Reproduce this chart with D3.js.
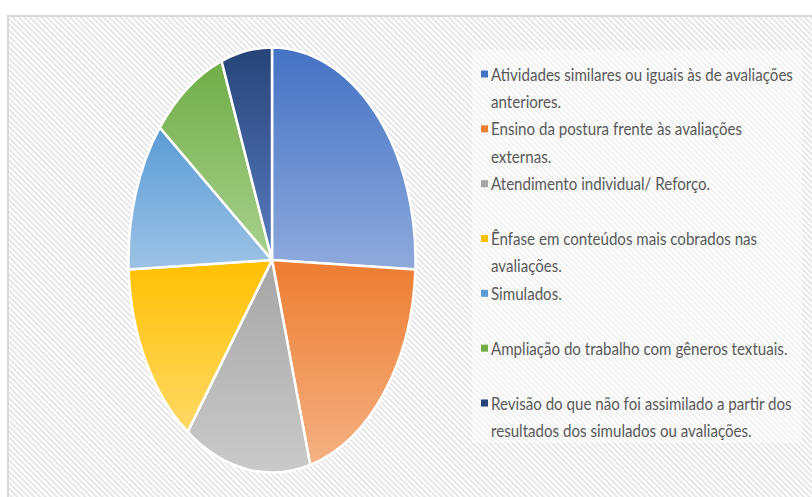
<!DOCTYPE html>
<html>
<head>
<meta charset="utf-8">
<script src="https://cdn.jsdelivr.net/npm/d3@7"></script>
<style>
  body { margin: 0; background: #fff; }
  svg { display: block; }
  .leg text { font-family: Lato, "Open Sans", sans-serif; font-size: 18px; fill: #595959; }
</style>
</head>
<body>
<div id="chart"></div>
<script>
// legend labels, already split into the lines shown in the original
var labels = [
    ["Atividades similares ou iguais às de avaliações", "anteriores."],
    ["Ensino da postura frente às avaliações", "externas."],
    ["Atendimento individual/ Reforço."],
    ["Ênfase em conteúdos mais cobrados nas", "avaliações."],
    ["Simulados."],
    ["Ampliação do trabalho com gêneros textuais."],
    ["Revisão do que não foi assimilado a partir dos", "resultados dos simulados ou avaliações."]
];
var counts = [9, 7, 5, 5, 4, 3, 2];
var baseColors = ["#4472C4", "#ED7D31", "#A5A5A5", "#FFC000", "#5B9BD5", "#70AD47", "#264478"];
var lightColors = ["#8FAADC", "#F4B183", "#CACACA", "#FFD966", "#9DC3E6", "#A9D18E", "#5A7CC2"];

var width = 812,
    height = 497,
    cx = 272,
    cy = 260,
    rx = 143.5,
    ry = 212.5,
    firstLineWidth = 302;

var svg = d3.select("#chart")
    .append("svg")
    .attr("width", width)
    .attr("height", height);

var defs = svg.append("defs");

// diagonal hatch of the chart area
var hatch = defs.append("pattern")
    .attr("id", "hatch")
    .attr("patternUnits", "userSpaceOnUse")
    .attr("width", 4)
    .attr("height", 4)
    .attr("patternTransform", "rotate(-45)");
hatch.append("rect").attr("width", 4).attr("height", 4).attr("fill", "#ffffff");
hatch.append("rect").attr("width", 1.8).attr("height", 4).attr("fill", "#e4e4e4");

baseColors.forEach(function (c, i) {
    var g = defs.append("linearGradient")
        .attr("id", "grad" + i)
        .attr("x1", 0).attr("y1", 0)
        .attr("x2", 0).attr("y2", 1);
    g.append("stop").attr("offset", "0%").attr("stop-color", c);
    g.append("stop").attr("offset", "100%").attr("stop-color", lightColors[i]);
});

svg.append("rect")
    .attr("x", 8)
    .attr("y", 16)
    .attr("width", width)
    .attr("height", height)
    .attr("fill", "url(#hatch)")
    .attr("stroke", "#d9d9d9")
    .attr("stroke-width", 2);

var pie = d3.pie()
    .sort(null)
    .value(function (d) { return d; });

var arc = d3.arc()
    .outerRadius(ry)
    .innerRadius(0);

var pieG = svg.append("g")
    .attr("transform", "translate(" + cx + "," + cy + ") scale(" + (rx / ry) + ",1)");

pieG.selectAll("path")
    .data(pie(counts))
    .enter().append("path")
    .attr("d", arc)
    .attr("fill", function (d, i) { return "url(#grad" + i + ")"; })
    .attr("stroke", "#ffffff")
    .attr("stroke-width", 2.5)
    .attr("vector-effect", "non-scaling-stroke");

// legend
svg.append("rect")
    .attr("x", 472)
    .attr("y", 50)
    .attr("width", 330)
    .attr("height", 393)
    .attr("fill", "#ffffff")
    .attr("opacity", 0.45);

var legendY = d3.scaleLinear()
    .domain([0, labels.length - 1])
    .range([74, 403]);

var leg = svg.selectAll(".leg")
    .data(labels)
    .enter().append("g")
    .attr("class", "leg")
    .attr("transform", function (d, i) { return "translate(481," + legendY(i) + ")"; });

leg.append("rect")
    .attr("x", 0)
    .attr("y", -3.5)
    .attr("width", 7)
    .attr("height", 7)
    .attr("fill", function (d, i) { return baseColors[i]; });

var textG = leg.append("g");

textG.selectAll("text")
    .data(function (d) { return d; })
    .enter().append("text")
    .attr("x", 0)
    .attr("y", function (d, j) { return 6.5 + j * 27.5; })
    .text(function (d) { return d; });

// squeeze the text horizontally so it looks like the narrow font of the original
var natural = textG.select("text").node().getComputedTextLength();
var k = firstLineWidth / natural;
textG.attr("transform", "translate(10,0) scale(" + k + ",1)");
</script>
</body>
</html>
